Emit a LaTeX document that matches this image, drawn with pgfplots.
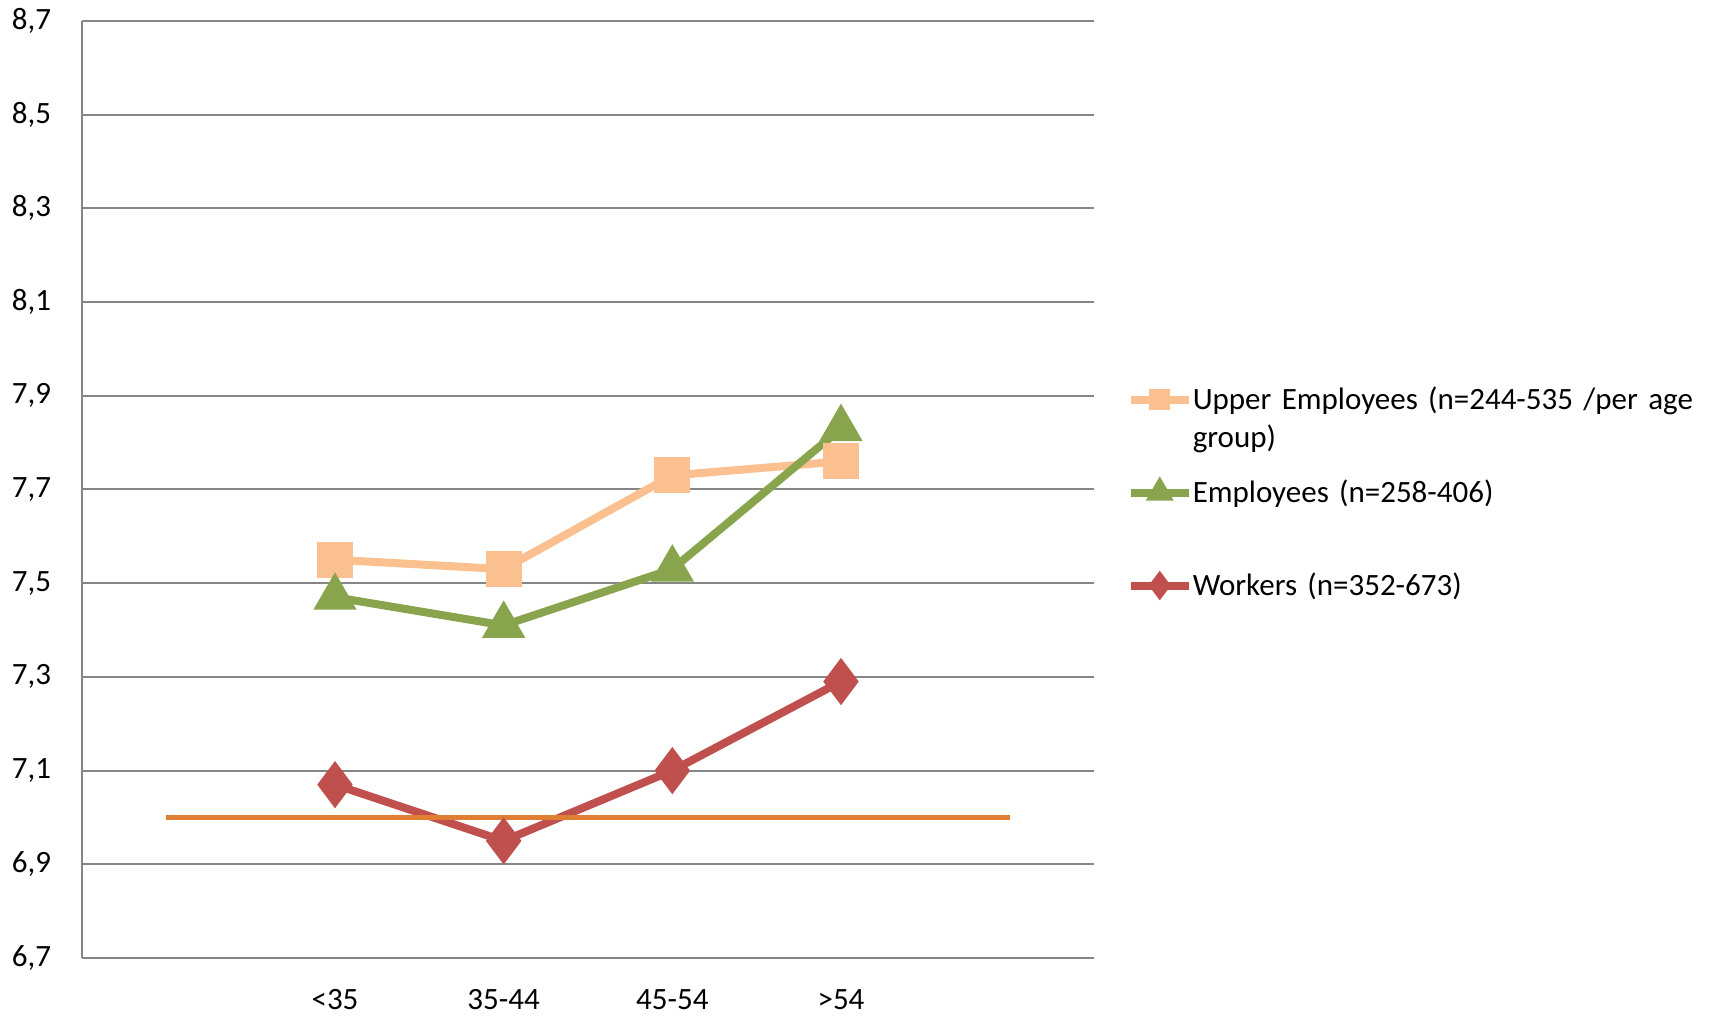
\documentclass[border=0pt]{standalone}
\usepackage{fontspec}
\setmainfont{Carlito}
\usepackage{pgfplots}
\pgfplotsset{compat=1.18}
\definecolor{upper}{HTML}{FAC090}
\definecolor{empl}{HTML}{88A44D}
\definecolor{work}{HTML}{C0504D}
\definecolor{refc}{HTML}{E07E32}
\definecolor{gridc}{HTML}{868686}
\begin{document}
\fontsize{15.5}{19}\selectfont
\begin{tikzpicture}
\path[use as bounding box] (0,0) rectangle (857.5pt,508pt);
\begin{axis}[
  at={(41pt,29pt)}, anchor=south west,
  scale only axis, width=506pt, height=468.5pt,
  xmin=-1.5, xmax=4.5, ymin=6.7, ymax=8.7,
  axis x line*=bottom, axis y line*=left,
  axis line style={-, draw=gridc, line width=1pt},
  xtick={0,1,2,3}, xticklabels={<35,35-44,45-54,>54},
  ytick={6.7,6.9,7.1,7.3,7.5,7.7,7.9,8.1,8.3,8.5,8.7},
  yticklabels={{6,7},{6,9},{7,1},{7,3},{7,5},{7,7},{7,9},{8,1},{8,3},{8,5},{8,7}},
  major tick length=0pt, tick style={draw=none},
  ymajorgrids, grid style={draw=gridc, line width=1pt},
  yticklabel style={anchor=east, inner sep=0pt, xshift=-15.3pt},
  xticklabel style={anchor=base, inner sep=0pt, yshift=-25.8pt},
  legend style={at={(axis description cs:1.032,0.6114)}, anchor=north west,
    draw=none, fill=none, inner sep=0pt, row sep=0pt, column sep=0pt,
    nodes={inner sep=0pt, text width=258pt, align=left, text height=12pt, text depth=34.5pt},
    cells={anchor=base west}},
  legend image code/.code={\draw[mark repeat=2, mark phase=2, #1, every mark/.append style={scale=0.48}]
     plot coordinates {(0pt,5pt) (14.5pt,5pt) (29pt,5pt)};},
]
\addplot[upper, line width=4pt, mark=square*, mark size=7pt, mark options={solid, fill=upper, draw=none}]
  coordinates {(0,7.55) (1,7.53) (2,7.73) (3,7.76)};
\addlegendentry{Upper Employees (n=244-535 /per age group)}
\addplot[empl, line width=4pt, mark=triangle*, mark size=8.5pt, mark options={solid, fill=empl, draw=none}]
  coordinates {(0,7.47) (1,7.41) (2,7.53) (3,7.83)};
\addlegendentry{Employees (n=258-406)}
\addplot[work, line width=4pt, mark=diamond*, mark size=8.5pt, mark options={solid, fill=work, draw=none}]
  coordinates {(0,7.07) (1,6.95) (2,7.10) (3,7.29)};
\addlegendentry{Workers (n=352-673)}
\addplot[refc, line width=2.5pt, forget plot] coordinates {(-1,7.0) (4,7.0)};
\end{axis}
\end{tikzpicture}
\end{document}
